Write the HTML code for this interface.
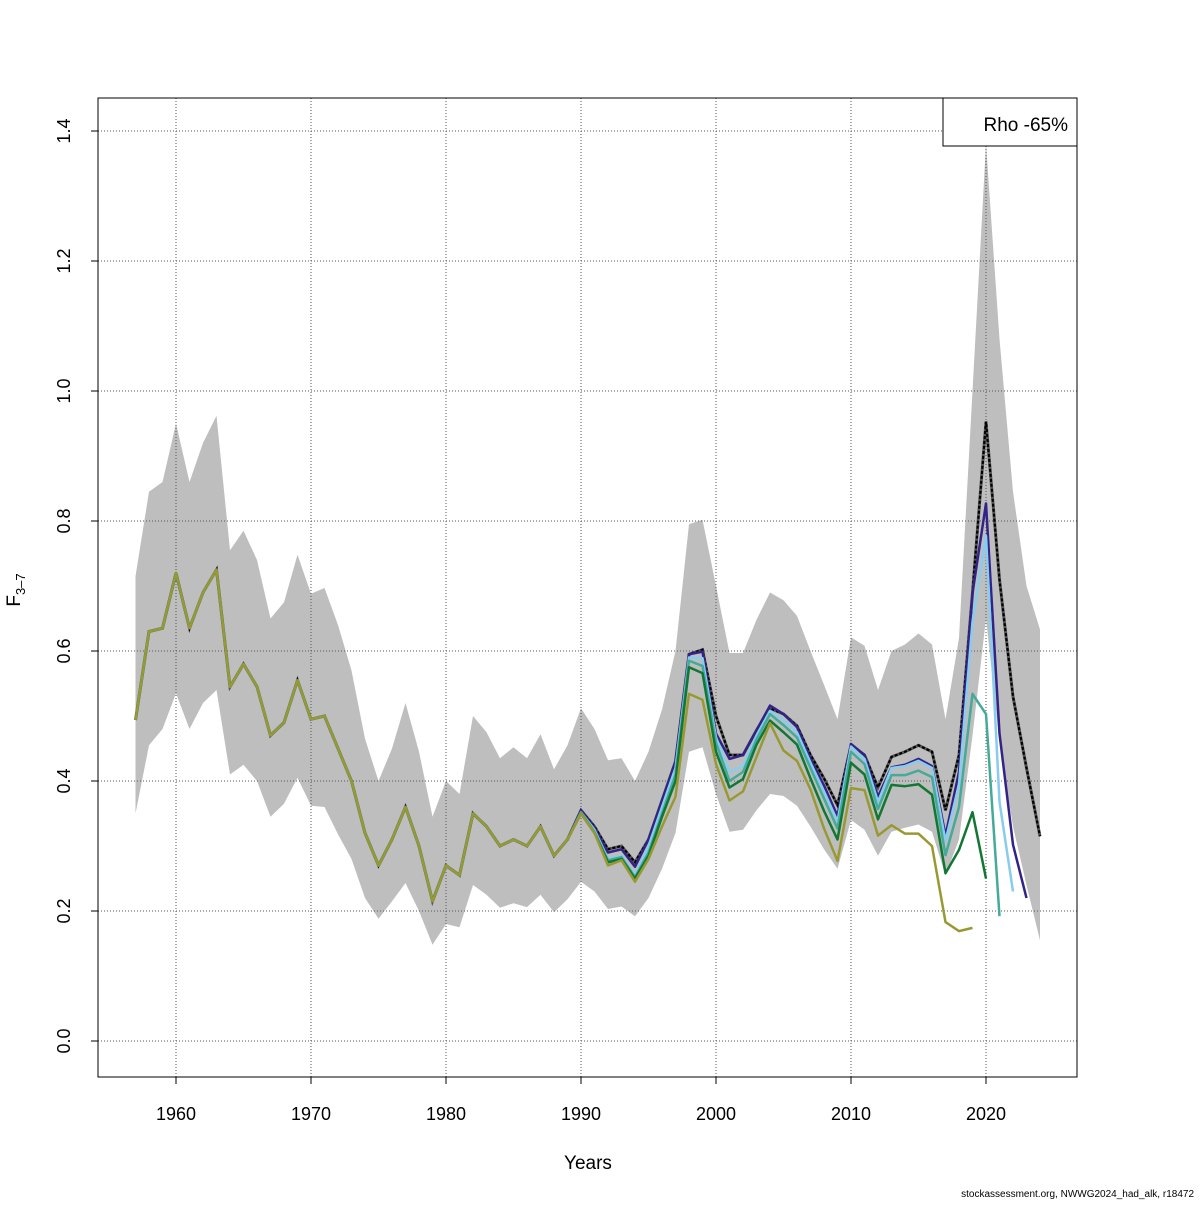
<!DOCTYPE html>
<html><head><meta charset="utf-8"><style>
body{margin:0;background:#fff}
svg text{font-family:"Liberation Sans",sans-serif}
</style></head><body>
<svg id="chart" width="1200" height="1200" xmlns="http://www.w3.org/2000/svg">
<rect width="1200" height="1200" fill="#fff"/>
<g id="band"></g><g id="grid"></g><g id="lines"></g><g id="axes"></g>
<rect x="98" y="98" width="979" height="979" fill="none" stroke="#000"/>
<g>
<rect x="943" y="98" width="134" height="48" fill="#fff" stroke="#000"/>
<text x="1068" y="131" font-size="19" text-anchor="end">Rho -65%</text>
</g>
<text x="588" y="1169" font-size="19" text-anchor="middle">Years</text>
<text transform="translate(20,590) rotate(-90)" font-size="19" text-anchor="middle">F<tspan font-size="13" dy="5">3–7</tspan></text>
<text x="1194" y="1197" font-size="10" text-anchor="end">stockassessment.org, NWWG2024_had_alk, r18472</text>
</svg>
<script>
const startYear = 1957;
const early = [0.494,0.63,0.635,0.72,0.635,0.69,0.725,0.545,0.58,0.545,0.47,0.49,0.555,0.495,0.50,0.45,0.40,0.32,0.27,0.31,0.36,0.30,0.215,0.27,0.255,0.35,0.33,0.30,0.31,0.30,0.33,0.285,0.31];
const blackRecent = [0.355,0.33,0.295,0.30,0.275,0.31,0.37,0.43,0.595,0.602,0.50,0.44,0.44,0.478,0.512,0.503,0.485,0.44,0.404,0.363,0.455,0.44,0.39,0.437,0.445,0.455,0.445,0.355,0.44,0.69,0.953,0.71,0.53,0.42,0.315];
const navyRecent = [0.355,0.328,0.29,0.295,0.268,0.31,0.37,0.43,0.595,0.599,0.473,0.434,0.44,0.478,0.516,0.503,0.483,0.434,0.393,0.346,0.457,0.44,0.376,0.421,0.425,0.434,0.423,0.316,0.414,0.689,0.827,0.473,0.302,0.22];
const lightRecent = [0.352,0.325,0.28,0.285,0.255,0.30,0.36,0.42,0.59,0.589,0.467,0.414,0.423,0.47,0.508,0.494,0.475,0.428,0.384,0.338,0.453,0.434,0.368,0.42,0.423,0.431,0.42,0.308,0.395,0.645,0.777,0.368,0.23];
const tealRecent = [0.352,0.322,0.278,0.283,0.252,0.29,0.35,0.41,0.585,0.577,0.459,0.40,0.414,0.464,0.503,0.486,0.467,0.42,0.373,0.327,0.445,0.426,0.357,0.409,0.409,0.416,0.406,0.286,0.36,0.534,0.503,0.192];
const greenRecent = [0.35,0.32,0.275,0.28,0.25,0.285,0.345,0.40,0.575,0.566,0.445,0.39,0.403,0.456,0.493,0.475,0.456,0.404,0.354,0.31,0.428,0.41,0.341,0.394,0.392,0.395,0.379,0.258,0.294,0.352,0.25];
const oliveRecent = [0.35,0.32,0.27,0.278,0.245,0.28,0.33,0.376,0.534,0.525,0.426,0.37,0.384,0.437,0.489,0.447,0.431,0.387,0.327,0.277,0.389,0.386,0.316,0.332,0.319,0.319,0.30,0.183,0.169,0.174];
const upper = [0.715,0.845,0.86,0.95,0.86,0.92,0.962,0.755,0.785,0.74,0.65,0.675,0.748,0.688,0.697,0.64,0.57,0.465,0.40,0.45,0.52,0.445,0.345,0.40,0.38,0.50,0.475,0.435,0.452,0.435,0.472,0.418,0.455,0.512,0.48,0.432,0.435,0.40,0.445,0.51,0.60,0.795,0.802,0.70,0.597,0.597,0.648,0.69,0.678,0.654,0.60,0.548,0.495,0.621,0.608,0.54,0.60,0.61,0.627,0.61,0.495,0.62,1.0,1.38,1.08,0.845,0.70,0.633];
const lower = [0.35,0.455,0.48,0.535,0.48,0.52,0.54,0.41,0.425,0.40,0.345,0.365,0.405,0.362,0.36,0.318,0.28,0.22,0.188,0.215,0.243,0.20,0.148,0.18,0.175,0.24,0.225,0.205,0.212,0.206,0.225,0.198,0.218,0.245,0.23,0.203,0.207,0.192,0.22,0.265,0.32,0.445,0.452,0.38,0.322,0.325,0.355,0.38,0.377,0.362,0.33,0.295,0.265,0.34,0.325,0.285,0.322,0.328,0.333,0.322,0.255,0.31,0.47,0.65,0.46,0.33,0.24,0.155];
const xTicks = [1960,1970,1980,1990,2000,2010,2020];
const yTicks = [0.0,0.2,0.4,0.6,0.8,1.0,1.2,1.4];
const yTickLabels = ["0.0","0.2","0.4","0.6","0.8","1.0","1.2","1.4"];

const xs = yr => 176 + (yr - 1960) * 13.5;
const ys = v => 1041 - v * 650;
const NS = "http://www.w3.org/2000/svg";
function mk(tag, attrs, parent){const e=document.createElementNS(NS,tag);for(const k in attrs)e.setAttribute(k,attrs[k]);parent.appendChild(e);return e;}

// band
const bandG=document.getElementById('band');
let pts=upper.map((v,i)=>xs(startYear+i)+','+ys(v));
for(let i=lower.length-1;i>=0;i--)pts.push(xs(startYear+i)+','+ys(lower[i]));
const band=mk('polygon',{points:pts.join(' '),fill:'#bebebe'},bandG);



// grid + ticks
const gridG=document.getElementById('grid'), axG=document.getElementById('axes');
xTicks.forEach(t=>{
  const l=mk('line',{x1:xs(t),x2:xs(t),y1:98,y2:1077,stroke:'#555','stroke-dasharray':'1 2'},gridG);
  
  
  mk('line',{x1:xs(t),x2:xs(t),y1:1077,y2:1084,stroke:'#000'},axG);
  const tx=mk('text',{x:xs(t),y:1120,'font-size':18,'text-anchor':'middle'},axG);
  tx.textContent=t;
  
  
});
yTicks.forEach((t,i)=>{
  const l=mk('line',{x1:98,x2:1077,y1:ys(t),y2:ys(t),stroke:'#555','stroke-dasharray':'1 2'},gridG);
  
  
  mk('line',{x1:91,x2:98,y1:ys(t),y2:ys(t),stroke:'#000'},axG);
  const tx=mk('text',{transform:`translate(70,${ys(t)}) rotate(-90)`,'font-size':18,'text-anchor':'middle'},axG);
  tx.textContent=yTickLabels[i];
  
  
});

// lines
const linesG=document.getElementById('lines');
function path(vals){return vals.map((v,i)=>(i?'L':'M')+xs(startYear+i)+','+ys(v)).join(' ');}
const series=[
  ['peel-2019',early.concat(oliveRecent),'#999933'],
  ['peel-2020',early.concat(greenRecent),'#117733'],
  ['peel-2021',early.concat(tealRecent),'#44aa99'],
  ['peel-2022',early.concat(lightRecent),'#88ccee'],
  ['peel-2023',early.concat(navyRecent),'#332288']
];
const blackVals=early.concat(blackRecent);
const b1=mk('path',{d:path(blackVals),fill:'none',stroke:'#555','stroke-width':3},linesG);


const b2=mk('path',{d:path(blackVals),fill:'none',stroke:'#000','stroke-width':2.2,'stroke-dasharray':'3 2'},linesG);


series.slice().reverse().forEach(s=>{
  const p=mk('path',{d:path(s[1]),fill:'none',stroke:s[2],'stroke-width':2.5,'stroke-linejoin':'round'},linesG);
  
  
});
</script>
</body></html>
